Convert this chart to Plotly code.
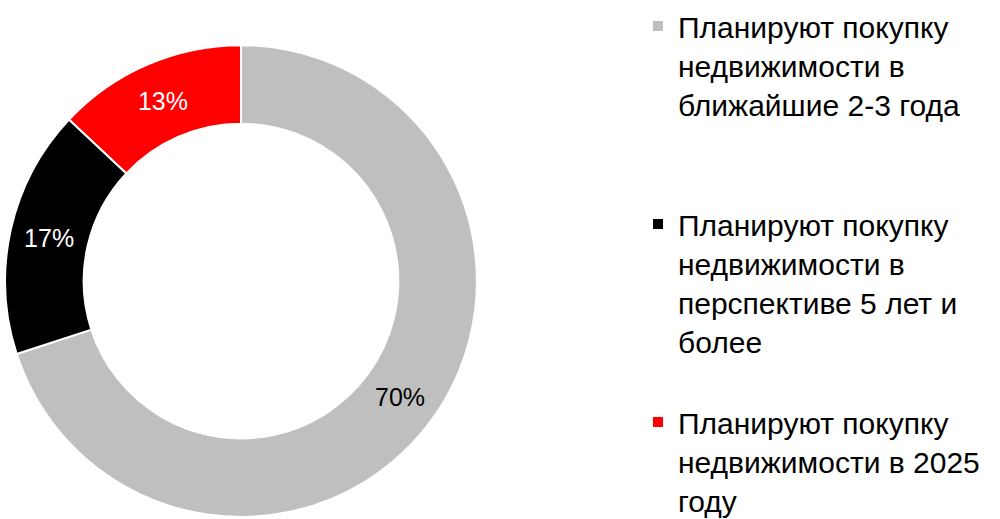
import plotly.graph_objects as go

labels = [
    "Планируют покупку<br>недвижимости в<br>ближайшие 2-3 года<br><br>",
    "Планируют покупку<br>недвижимости в<br>перспективе 5 лет и<br>более<br>",
    "Планируют покупку<br>недвижимости в 2025<br>году",
]
values = [70, 17, 13]
text_labels = ["70%", "17%", "13%"]
colors = ["#BFBFBF", "#000000", "#FF0000"]
text_colors = ["#000000", "#FFFFFF", "#FFFFFF"]

fig = go.Figure(
    go.Pie(
        labels=labels,
        values=values,
        text=text_labels,
        textinfo="text",
        textposition="inside",
        insidetextorientation="horizontal",
        hole=0.667,
        sort=False,
        direction="clockwise",
        rotation=0,
        marker=dict(colors=colors, line=dict(color="#FFFFFF", width=2)),
        textfont=dict(family="Liberation Sans, Arial, sans-serif", size=25, color=text_colors),
        domain=dict(x=[0.005, 0.477], y=[0.004, 0.913]),
    )
)

fig.update_layout(
    width=1000,
    height=519,
    margin=dict(l=0, r=0, t=0, b=0, autoexpand=False),
    paper_bgcolor="#FFFFFF",
    plot_bgcolor="#FFFFFF",
    showlegend=True,
    legend=dict(
        x=0.638,
        y=1.0,
        xanchor="left",
        yanchor="top",
        valign="top",
        maxheight=900,
        font=dict(family="Liberation Sans, Arial, sans-serif", size=30, color="#000000"),
        bgcolor="rgba(0,0,0,0)",
        traceorder="normal",
    ),
)

fig.write_html(
    "out.html",
    config={"displayModeBar": False},
    post_script="document.body.style.margin='0';document.body.style.overflow='hidden';",
)
